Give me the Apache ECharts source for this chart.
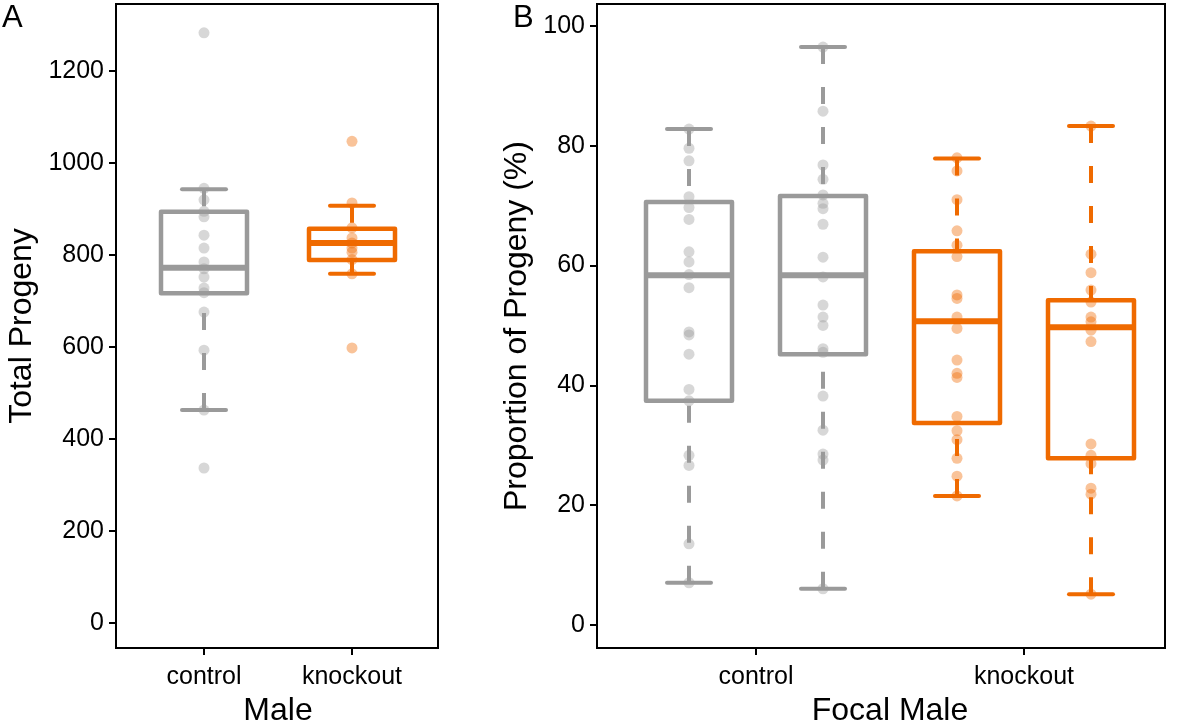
<!DOCTYPE html>
<html>
<head>
<meta charset="utf-8">
<script src="https://cdn.jsdelivr.net/npm/echarts@6.0.0/dist/echarts.min.js"></script>
<style>
html,body{margin:0;padding:0;background:#fff;}
#chart{width:1181px;height:724px;}
</style>
</head>
<body>
<div id="chart"></div>
<script>
// ---------- DATA ----------
// Panel A: Total Progeny by Male
const catA = ['control', 'knockout'];
// [lower whisker, Q1, median, Q3, upper whisker]
const boxA = [
  [463, 717, 772, 894, 943],
  [759, 789, 826, 857, 907]
];
const ptsAcontrol = [1283, 945, 920, 895, 883, 843, 815, 785, 770, 752, 728, 718, 676, 593, 463, 337];
const ptsAknockout = [1047, 913, 859, 837, 826, 815, 806, 790, 759, 598];
const ticksA = [0, 200, 400, 600, 800, 1000, 1200];

// Panel B: Proportion of Progeny (%) by Focal Male (two boxes per group)
const groupsB = ['control', 'knockout'];
const boxesB = ['control 1', 'control 2', 'knockout 1', 'knockout 2'];
const boxB = [
  [7.0, 37.4, 58.4, 70.6, 82.8],
  [6.0, 45.2, 58.4, 71.6, 96.5],
  [21.5, 33.7, 50.7, 62.4, 77.9],
  [5.1, 27.8, 49.7, 54.2, 83.3]
];
const ptsB1 = [82.8, 79.6, 77.5, 71.5, 69.7, 67.7, 62.3, 60.6, 58.5, 56.3, 48.9, 48.4, 45.2, 39.3, 37.4, 28.3, 26.6, 13.5, 7.0];
const ptsB2 = [96.5, 85.8, 76.8, 74.4, 71.8, 70.4, 69.5, 66.9, 61.4, 58.1, 53.4, 51.4, 50.0, 46.1, 45.5, 38.2, 32.5, 28.5, 27.5, 6.0];
const ptsB3 = [78.0, 75.8, 71.0, 65.8, 63.4, 61.5, 55.1, 54.5, 51.4, 49.5, 44.2, 42.0, 41.3, 34.8, 32.4, 30.9, 27.8, 24.8, 21.5];
const ptsB4 = [83.3, 61.9, 58.8, 55.9, 53.9, 51.4, 50.6, 49.2, 47.3, 30.2, 28.3, 26.9, 22.8, 21.8, 5.1];
const ticksB = [0, 20, 40, 60, 80, 100];

// ---------- STYLE ----------
const GRAY = '#9a9a9a';
const ORANGE = '#ef6a00';
const colorsA = [GRAY, ORANGE];
const colorsB = [GRAY, GRAY, ORANGE, ORANGE];
const FONT = 'Liberation Sans, Arial, sans-serif';
const BOX_W = 86, CAP_W = 44;

function makeRender(colors) {
  return function (params, api) {
    const i = api.value(0);
    const lo = api.coord([i, api.value(1)]);
    const q1 = api.coord([i, api.value(2)]);
    const md = api.coord([i, api.value(3)]);
    const q3 = api.coord([i, api.value(4)]);
    const hi = api.coord([i, api.value(5)]);
    const cx = lo[0];
    const c = colors[i];
    const hb = BOX_W / 2, hc = CAP_W / 2;
    const dash = { stroke: c, lineWidth: 4, lineDash: [17, 23], lineCap: 'butt' };
    const cap = { stroke: c, lineWidth: 4, lineCap: 'round' };
    return {
      type: 'group',
      children: [
        { type: 'line', shape: { x1: cx, y1: hi[1], x2: cx, y2: q3[1] }, style: dash },
        { type: 'line', shape: { x1: cx, y1: lo[1], x2: cx, y2: q1[1] }, style: dash },
        { type: 'line', shape: { x1: cx - hc, y1: hi[1], x2: cx + hc, y2: hi[1] }, style: cap },
        { type: 'line', shape: { x1: cx - hc, y1: lo[1], x2: cx + hc, y2: lo[1] }, style: cap },
        { type: 'rect', shape: { x: cx - hb, y: q3[1], width: 2 * hb, height: q1[1] - q3[1] },
          style: { stroke: c, fill: 'none', lineWidth: 4.5, lineJoin: 'round' } },
        { type: 'line', shape: { x1: cx - hb, y1: md[1], x2: cx + hb, y2: md[1] },
          style: { stroke: c, lineWidth: 6 } }
      ]
    };
  };
}

const ptStyle = (c) => ({ color: c, opacity: 0.4 });
const toPts = (idx, arr) => arr.map(v => [idx, v]);

const labelStyle = { color: '#000', fontSize: 25, fontFamily: FONT };
const nameStyle = { color: '#000', fontSize: 32, fontFamily: FONT };
const tickStyle = { show: true, length: 7, lineStyle: { color: '#000', width: 2 } };
const plain = (v) => String(v);

const yA = { min: -54.3, max: 1345.6 };
const yB = { min: -3.9, max: 103.7 };

const gridBase = { top: 4, height: 644, outerBoundsMode: 'none', containLabel: false };

const option = {
  animation: false,
  backgroundColor: '#fff',
  grid: [
    Object.assign({ left: 116, width: 322, show: true, borderColor: '#000', borderWidth: 2, backgroundColor: 'transparent' }, gridBase),
    Object.assign({ left: 130, width: 296 }, gridBase),
    Object.assign({ left: 597, width: 568, show: true, borderColor: '#000', borderWidth: 2, backgroundColor: 'transparent' }, gridBase),
    Object.assign({ left: 622, width: 536 }, gridBase)
  ],
  xAxis: [
    { gridIndex: 0, type: 'value', show: false, min: 0, max: 1 },
    { gridIndex: 1, type: 'category', data: catA, position: 'bottom',
      axisLine: { show: false, onZero: false }, axisTick: Object.assign({ alignWithLabel: true }, tickStyle),
      axisLabel: Object.assign({ margin: 17 }, labelStyle),
      name: 'Male', nameLocation: 'middle', nameGap: 47, nameTextStyle: nameStyle },
    { gridIndex: 2, type: 'value', show: false, min: 0, max: 1 },
    { gridIndex: 3, type: 'category', data: boxesB, show: false, axisLine: { onZero: false } },
    { gridIndex: 3, type: 'category', data: groupsB, position: 'bottom',
      axisLine: { show: false, onZero: false }, axisTick: Object.assign({ alignWithLabel: true }, tickStyle),
      axisLabel: Object.assign({ margin: 17 }, labelStyle),
      name: 'Focal Male', nameLocation: 'middle', nameGap: 47, nameTextStyle: nameStyle }
  ],
  yAxis: [
    { gridIndex: 0, type: 'value', min: yA.min, max: yA.max,
      axisLine: { show: false, onZero: false }, splitLine: { show: false },
      axisTick: Object.assign({ customValues: ticksA }, tickStyle),
      axisLabel: Object.assign({ customValues: ticksA, margin: 12, formatter: plain }, labelStyle),
      name: 'Total Progeny', nameLocation: 'middle', nameGap: 78, nameTextStyle: nameStyle },
    { gridIndex: 1, type: 'value', min: yA.min, max: yA.max, show: false, splitLine: { show: false } },
    { gridIndex: 2, type: 'value', min: yB.min, max: yB.max,
      axisLine: { show: false, onZero: false }, splitLine: { show: false },
      axisTick: Object.assign({ customValues: ticksB }, tickStyle),
      axisLabel: Object.assign({ customValues: ticksB, margin: 12, formatter: plain }, labelStyle),
      name: 'Proportion of Progeny (%)', nameLocation: 'middle', nameGap: 64, nameTextStyle: nameStyle },
    { gridIndex: 3, type: 'value', min: yB.min, max: yB.max, show: false, splitLine: { show: false } }
  ],
  graphic: [
    { type: 'text', left: 2, top: 3, style: { text: 'A', fontSize: 31, fontFamily: FONT, fill: '#000' } },
    { type: 'text', left: 513, top: 3, style: { text: 'B', fontSize: 31, fontFamily: FONT, fill: '#000' } }
  ],
  series: [
    { type: 'custom', xAxisIndex: 1, yAxisIndex: 1, renderItem: makeRender(colorsA),
      data: boxA.map((b, i) => [i].concat(b)), encode: { x: 0, y: [1, 2, 3, 4, 5] }, z: 2 },
    { type: 'scatter', xAxisIndex: 1, yAxisIndex: 1, symbolSize: 11, itemStyle: ptStyle(GRAY),
      data: toPts(0, ptsAcontrol), z: 3 },
    { type: 'scatter', xAxisIndex: 1, yAxisIndex: 1, symbolSize: 11, itemStyle: ptStyle(ORANGE),
      data: toPts(1, ptsAknockout), z: 3 },
    { type: 'custom', xAxisIndex: 3, yAxisIndex: 3, renderItem: makeRender(colorsB),
      data: boxB.map((b, i) => [i].concat(b)), encode: { x: 0, y: [1, 2, 3, 4, 5] }, z: 2 },
    { type: 'scatter', xAxisIndex: 3, yAxisIndex: 3, symbolSize: 11, itemStyle: ptStyle(GRAY),
      data: toPts(0, ptsB1), z: 3 },
    { type: 'scatter', xAxisIndex: 3, yAxisIndex: 3, symbolSize: 11, itemStyle: ptStyle(GRAY),
      data: toPts(1, ptsB2), z: 3 },
    { type: 'scatter', xAxisIndex: 3, yAxisIndex: 3, symbolSize: 11, itemStyle: ptStyle(ORANGE),
      data: toPts(2, ptsB3), z: 3 },
    { type: 'scatter', xAxisIndex: 3, yAxisIndex: 3, symbolSize: 11, itemStyle: ptStyle(ORANGE),
      data: toPts(3, ptsB4), z: 3 }
  ]
};

const chart = echarts.init(document.getElementById('chart'), null, { renderer: 'canvas' });
chart.setOption(option);
</script>
</body>
</html>
